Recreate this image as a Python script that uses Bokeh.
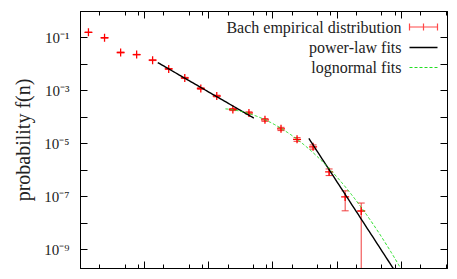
import numpy as np
from bokeh.plotting import figure
from bokeh.models import (LogAxis, FixedTicker, CustomJSTickFormatter, Whisker, TeeHead,
                          ColumnDataSource, Label, Arrow)
from bokeh.embed import file_html
from bokeh.resources import INLINE

# ---- data ----
n_bins = [1.33, 2.37, 4.22, 7.50, 13.3, 23.7, 42.2, 75.0, 133, 237, 422, 750,
          1334, 2371, 4217, 7499, 13335, 23714]
prob = [0.164, 0.102, 0.0284, 0.0237, 0.0145, 0.00679, 0.00311, 0.00124,
        6.46e-4, 2.0e-4, 1.49e-4, 8.13e-5, 3.72e-5, 1.5e-5, 7.8e-6, 8.9e-7,
        1.0e-7, 2.95e-8]
rel_err = [0.01, 0.01, 0.02, 0.02, 0.03, 0.04, 0.05, 0.06, 0.07, 0.09, 0.10,
           0.12, 0.14, 0.16, 0.18, 0.28, 0.70, 0.999]

powerlaw_exponents = [1.40, 3.73]
powerlaw_amplitudes = [0.574, 3.05e8]
powerlaw_ranges = [(16.0, 503.0), (3622.0, 1.0e5)]

lognormal_amp = 0.0624
lognormal_mu = 6.441
lognormal_sigma = 1.258
lognormal_range = (182.0, 2.0e5)

legend_labels = ["Bach empirical distribution", "power-law fits", "lognormal fits"]
y_label = "probability f(n)"

# ---- figure ----
FW, FH = 367, 257
p = figure(x_axis_type="log", y_axis_type="log",
           x_range=(1.0, 10 ** 5.72), y_range=(10 ** -9.7, 1.0),
           frame_width=FW, frame_height=FH,
           min_border_left=80, min_border_top=11, min_border_right=8, min_border_bottom=9,
           output_backend="svg", toolbar_location=None)
p.background_fill_color = "white"
p.border_fill_color = "white"
p.outline_line_color = "black"
p.xgrid.visible = False
p.ygrid.visible = False

bottom_axis = p.below[0]
left_axis = p.left[0]
top_axis = LogAxis()
right_axis = LogAxis()
p.add_layout(top_axis, "above")
p.add_layout(right_axis, "right")

x_major = [10.0 ** k for k in range(0, 6)]
x_minor = [m * 10.0 ** k for k in range(0, 6) for m in (2, 5, 8)]
y_major = [10.0 ** -k for k in range(0, 10)]

ylab_fmt = CustomJSTickFormatter(code="""
const e = Math.round(Math.log10(tick));
if (e % 2 == 0) { return ""; }
const sup = {"-":"\u207b","0":"\u2070","1":"\u00b9","2":"\u00b2","3":"\u00b3","4":"\u2074","5":"\u2075","6":"\u2076","7":"\u2077","8":"\u2078","9":"\u2079"};
return "10" + String(e).split("").map(c => sup[c]).join("");
""")

for ax in [bottom_axis, top_axis]:
    ax.ticker = FixedTicker(ticks=x_major, minor_ticks=x_minor)
for ax in [left_axis, right_axis]:
    ax.ticker = FixedTicker(ticks=y_major, minor_ticks=[])
for ax in [bottom_axis, top_axis, left_axis, right_axis]:
    ax.axis_line_color = "black"
    ax.axis_line_width = 1
    ax.major_tick_line_color = "black"
    ax.minor_tick_line_color = "black"
    ax.major_tick_in = 7
    ax.major_tick_out = 0
    ax.minor_tick_in = 4
    ax.minor_tick_out = 0
    ax.major_label_standoff = 0
for ax in [bottom_axis, top_axis, right_axis]:
    ax.major_label_text_font_size = "0px"
    ax.major_label_text_alpha = 0

left_axis.formatter = ylab_fmt
left_axis.major_label_standoff = 11
left_axis.major_label_text_font = "Liberation Serif"
left_axis.major_label_text_font_size = "15px"
left_axis.major_label_text_color = "#222222"
left_axis.axis_label = y_label
left_axis.axis_label_text_font = "Liberation Serif"
left_axis.axis_label_text_font_style = "normal"
left_axis.axis_label_text_font_size = "20px"
left_axis.axis_label_text_color = "#222222"
left_axis.axis_label_standoff = 7

# ---- data: error bars and points ----
err = [f * r for f, r in zip(prob, rel_err)]
src = ColumnDataSource(dict(
    n=n_bins, f=prob,
    lo=[f - e for f, e in zip(prob, err)],
    hi=[f + e for f, e in zip(prob, err)],
))
ebar_color = "#f03c3c"
p.add_layout(Whisker(base="n", upper="hi", lower="lo", source=src, dimension="height",
                     line_color=ebar_color, line_width=1,
                     upper_head=TeeHead(size=7, line_color=ebar_color, line_width=1),
                     lower_head=TeeHead(size=7, line_color=ebar_color, line_width=1)))
p.scatter("n", "f", source=src, marker="cross", size=8, line_color="#ff0000", line_width=1.3)

# ---- power-law fits ----
for a, C, (n0, n1) in zip(powerlaw_exponents, powerlaw_amplitudes, powerlaw_ranges):
    nn = np.logspace(np.log10(n0), np.log10(n1), 50)
    p.line(nn, C * nn ** (-a), line_color="black", line_width=1.4)

# ---- lognormal fit ----
nn = np.logspace(np.log10(lognormal_range[0]), np.log10(lognormal_range[1]), 300)
ff = lognormal_amp / nn * np.exp(-(np.log(nn) - lognormal_mu) ** 2 / (2 * lognormal_sigma ** 2))
p.line(nn, ff, line_color="#22dd22", line_width=1, line_dash="3 2")

# ---- legend (gnuplot style: text right-aligned, sample on the right) ----
text_x = 321
sample_x0, sample_x1 = 329, 357
rows_y = [241.5, 221, 201]
for lab, yy in zip(legend_labels, rows_y):
    p.add_layout(Label(x=text_x, y=yy, x_units="screen", y_units="screen", text=lab,
                       text_align="right", text_baseline="middle",
                       text_font="Liberation Serif", text_font_size="16px",
                       text_color="#222222"))
y0 = rows_y[0]
legend_red = "#ff4848"
p.add_layout(Arrow(x_start=sample_x0, y_start=y0, x_end=sample_x1, y_end=y0,
                   start_units="screen", end_units="screen", start=None, end=None,
                   line_color=legend_red, line_width=1.2))
for xx in (sample_x0, (sample_x0 + sample_x1) / 2, sample_x1):
    p.add_layout(Arrow(x_start=xx, y_start=y0 - 3.5, x_end=xx, y_end=y0 + 3.5,
                       start_units="screen", end_units="screen", start=None, end=None,
                       line_color=legend_red, line_width=1.2))
p.add_layout(Arrow(x_start=sample_x0, y_start=rows_y[1], x_end=sample_x1, y_end=rows_y[1],
                   start_units="screen", end_units="screen", start=None, end=None,
                   line_color="black", line_width=1.4))
p.add_layout(Arrow(x_start=sample_x0, y_start=rows_y[2], x_end=sample_x1, y_end=rows_y[2],
                   start_units="screen", end_units="screen", start=None, end=None,
                   line_color="#22dd22", line_width=1, line_dash="3 2"))

open("out.html", "w").write(file_html(p, INLINE))
